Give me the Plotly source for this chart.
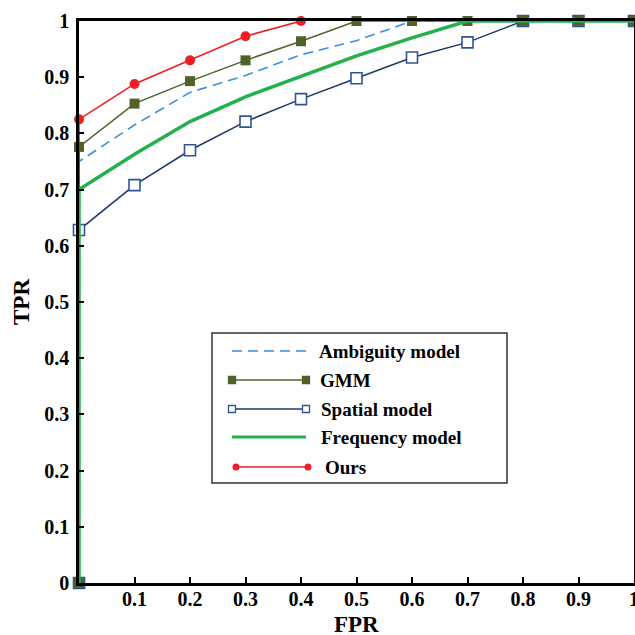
import plotly.graph_objects as go

# ---------------- data ----------------
FPR = [0, 0, 0.1, 0.2, 0.3, 0.4, 0.5, 0.6, 0.7, 0.8, 0.9, 1.0]
ambiguity = [0, 0.750, 0.815, 0.873, 0.903, 0.940, 0.965, 1.0, 1.0, 1.0, 1.0, 1.0]
gmm = [0, 0.776, 0.853, 0.893, 0.930, 0.964, 1.0, 1.0, 1.0, 1.0, 1.0, 1.0]
spatial = [0, 0.628, 0.708, 0.770, 0.821, 0.861, 0.898, 0.935, 0.962, 1.0, 1.0, 1.0]
frequency = [0, 0.700, 0.763, 0.821, 0.865, 0.902, 0.938, 0.970, 1.0, 1.0, 1.0, 1.0]
ours = [0, 0.825, 0.888, 0.930, 0.973, 1.0, None, None, None, None, None, None]

x_tickvals = [0.1, 0.2, 0.3, 0.4, 0.5, 0.6, 0.7, 0.8, 0.9, 1.0]
x_ticktext = ["0.1", "0.2", "0.3", "0.4", "0.5", "0.6", "0.7", "0.8", "0.9", "1"]
y_tickvals = [0, 0.1, 0.2, 0.3, 0.4, 0.5, 0.6, 0.7, 0.8, 0.9, 1.0]
y_ticktext = ["0", "0.1", "0.2", "0.3", "0.4", "0.5", "0.6", "0.7", "0.8", "0.9", "1"]

legend_names = ["Ambiguity model", "GMM", "Spatial model", "Frequency model", "Ours"]

# ---------------- style ----------------
FONT = "Liberation Serif"
C_AMB = "#3A8EDB"
C_GMM = "#4F6228"
C_SPA_LINE = "#1F3864"
C_SPA_EDGE = "#2F5597"
C_FREQ = "#22B14C"
C_OURS = "#F01E23"

W = H = 635
ML, MR, MT, MB = 79, 1, 21, 52
PW = W - ML - MR
PH = H - MT - MB


def px_x(px):
    return (px - ML) / PW


def px_y(py):
    return (H - MB - py) / PH


fig = go.Figure()

fig.add_trace(go.Scatter(x=FPR, y=ambiguity, mode="lines", name=legend_names[0],
                         line=dict(color=C_AMB, width=1.6, dash="10px,6px"),
                         cliponaxis=False, showlegend=False))
fig.add_trace(go.Scatter(x=FPR, y=ours, mode="lines+markers", name=legend_names[4],
                         line=dict(color=C_OURS, width=1.6),
                         marker=dict(symbol="circle", size=10, color=C_OURS),
                         cliponaxis=False, showlegend=False))
fig.add_trace(go.Scatter(x=FPR, y=spatial, mode="lines+markers", name=legend_names[2],
                         line=dict(color=C_SPA_LINE, width=1.5),
                         marker=dict(symbol="square", size=11, color="white",
                                     line=dict(color=C_SPA_EDGE, width=1.6)),
                         cliponaxis=False, showlegend=False))
fig.add_trace(go.Scatter(x=FPR, y=gmm, mode="lines+markers", name=legend_names[1],
                         line=dict(color=C_GMM, width=1.5),
                         marker=dict(symbol="square", size=10, color=C_GMM),
                         cliponaxis=False, showlegend=False))
fig.add_trace(go.Scatter(x=FPR, y=frequency, mode="lines", name=legend_names[3],
                         line=dict(color=C_FREQ, width=3.5),
                         cliponaxis=False, showlegend=False))

# ---------------- custom legend ----------------
shapes = []
annotations = []
shapes.append(dict(type="rect", xref="paper", yref="paper",
                   x0=px_x(212), x1=px_x(507), y0=px_y(483), y1=px_y(333),
                   line=dict(color="#333333", width=1.5), fillcolor="white", layer="above"))
item_y = [351, 380, 409, 437, 467]
lx0, lx1 = 232, 306
text_x = [317, 318, 319, 319, 323]
styles = [
    dict(color=C_AMB, width=1.6, dash="10px,6px"),
    dict(color=C_GMM, width=1.5),
    dict(color=C_SPA_LINE, width=1.5),
    dict(color=C_FREQ, width=3),
    dict(color=C_OURS, width=1.5),
]
for i, name in enumerate(legend_names):
    yy = px_y(item_y[i])
    x0p, x1p = lx0, lx1
    if i == 4:
        x0p, x1p = 236, 308
    shapes.append(dict(type="line", xref="paper", yref="paper",
                       x0=px_x(x0p), x1=px_x(x1p), y0=yy, y1=yy,
                       line=styles[i], layer="above"))
    if i in (1, 2, 4):
        for xe in (x0p, x1p):
            if i == 4:
                shapes.append(dict(type="circle", xref="paper", yref="paper",
                                   xsizemode="pixel", ysizemode="pixel",
                                   xanchor=px_x(xe), yanchor=yy,
                                   x0=-3.5, x1=3.5, y0=-3.5, y1=3.5,
                                   fillcolor=C_OURS, line=dict(color=C_OURS, width=0),
                                   layer="above"))
            else:
                fill = C_GMM if i == 1 else "white"
                edge = C_GMM if i == 1 else C_SPA_EDGE
                shapes.append(dict(type="rect", xref="paper", yref="paper",
                                   xsizemode="pixel", ysizemode="pixel",
                                   xanchor=px_x(xe), yanchor=yy,
                                   x0=-3.5, x1=3.5, y0=-3.5, y1=3.5,
                                   fillcolor=fill, line=dict(color=edge, width=1.3),
                                   layer="above"))
    annotations.append(dict(text=name, xref="paper", yref="paper",
                            x=px_x(text_x[i]), y=yy, xanchor="left", yanchor="middle",
                            showarrow=False,
                            font=dict(family=FONT, size=19, color="black", weight="bold")))

# axis titles
annotations.append(dict(text="FPR", xref="paper", yref="paper",
                        x=0.5, y=px_y(624), xanchor="center", yanchor="middle",
                        showarrow=False,
                        font=dict(family=FONT, size=23, color="black", weight="bold")))
annotations.append(dict(text="TPR", xref="paper", yref="paper",
                        x=px_x(21), y=0.5, xanchor="center", yanchor="middle",
                        textangle=-90, showarrow=False,
                        font=dict(family=FONT, size=23, color="black", weight="bold")))

fig.update_layout(
    width=W, height=H,
    margin=dict(l=ML, r=MR, t=MT, b=MB, autoexpand=False),
    paper_bgcolor="white", plot_bgcolor="white",
    showlegend=False,
    shapes=shapes, annotations=annotations,
    font=dict(family=FONT, color="black"),
)
fig.update_xaxes(range=[0, 1], showgrid=False, zeroline=False, automargin=False,
                 showline=True, linecolor="black", linewidth=3, mirror=True,
                 ticks="inside", ticklen=6, tickwidth=2, tickcolor="black",
                 ticklabeloverflow="allow", ticklabelstandoff=-4,
                 tickvals=x_tickvals, ticktext=x_ticktext,
                 tickfont=dict(family=FONT, size=20, color="black", weight="bold"))
fig.update_yaxes(range=[0, 1], showgrid=False, zeroline=False, automargin=False,
                 showline=True, linecolor="black", linewidth=2.5, mirror=True,
                 ticks="inside", ticklen=5, tickwidth=2, tickcolor="black",
                 ticklabelstandoff=3, ticklabeloverflow="allow",
                 tickvals=y_tickvals, ticktext=y_ticktext,
                 tickfont=dict(family=FONT, size=20, color="black", weight="bold"))

fig.write_html("out.html", config={"displayModeBar": False},
               post_script="document.body.style.margin='0';document.body.style.overflow='hidden';")
